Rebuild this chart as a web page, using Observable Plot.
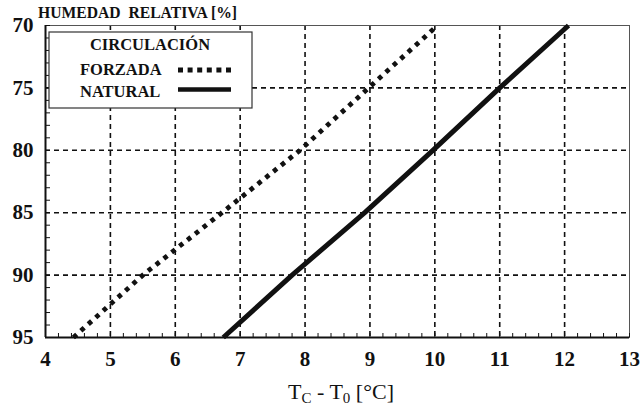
<!DOCTYPE html>
<html>
<head>
<meta charset="utf-8">
<script src="https://cdn.jsdelivr.net/npm/d3@7"></script>
<script src="https://cdn.jsdelivr.net/npm/@observablehq/plot@0.6"></script>
<style>
  html, body { margin: 0; padding: 0; background: #fff; }
  svg text { font-family: 'Liberation Serif', 'Times New Roman', serif !important; }
</style>
</head>
<body>
<div id="chart"></div>
<script>
// Data
const humidity = [95, 90, 85, 80, 75, 70];             // HUMEDAD RELATIVA [%]
const forzada  = [4.43, 5.5, 6.72, 7.92, 8.98, 10.04];   // Tc - T0 for CIRCULACIÓN FORZADA
const natural  = [6.74, 7.8, 8.92, 9.97, 11.0, 12.06];   // Tc - T0 for CIRCULACIÓN NATURAL
const xTicks = [4, 5, 6, 7, 8, 9, 10, 11, 12, 13];
const yTicks = [70, 75, 80, 85, 90, 95];
const xGrid = [5, 6, 7, 8, 9, 10, 11, 12];
const yGrid = [75, 80, 85, 90];
const seriesNames = ["FORZADA", "NATURAL"];
const legendTitle = "CIRCULACIÓN";
const yTitle = "HUMEDAD  RELATIVA [%]";

const xMinor = d3.range(20, 66).map(d => d / 5);
const yMinor = d3.range(70, 96);

const dataF = humidity.map((h, i) => ({h, t: forzada[i]}));
const dataN = humidity.map((h, i) => ({h, t: natural[i]}));

const serif = "Liberation Serif";

const chart = Plot.plot({
  width: 641,
  height: 407,
  marginLeft: 45,
  marginRight: 12,
  marginTop: 25,
  marginBottom: 70,
  style: {fontFamily: serif, fontSize: "21px", fontWeight: "bold", color: "#111", background: "#fff"},
  x: {domain: [4, 13]},
  y: {domain: [70, 95], reverse: true},
  marks: [
    Plot.gridX(xGrid, {stroke: "#111", strokeOpacity: 1, strokeWidth: 1.6, strokeDasharray: "5,4"}),
    Plot.gridY(yGrid, {stroke: "#111", strokeOpacity: 1, strokeWidth: 1.6, strokeDasharray: "5,4"}),
    Plot.frame({stroke: "#555", strokeWidth: 1}),
    Plot.axisX(xMinor, {tickSize: -4, tickFormat: () => "", label: null, stroke: "#111"}),
    Plot.axisY(yMinor, {tickSize: -5, tickFormat: () => "", label: null, stroke: "#111"}),
    Plot.axisX(xTicks, {tickSize: 0, tickPadding: 14, label: null, fontSize: 21, fontWeight: "bold", fontFamily: serif, fill: "#111"}),
    Plot.axisY(yTicks, {tickSize: 0, tickPadding: 12, label: null, fontSize: 21, fontWeight: "bold", fontFamily: serif, fill: "#111"}),
    Plot.ruleY([95], {stroke: "#111", strokeWidth: 2}),
    Plot.ruleX([4], {stroke: "#111", strokeWidth: 2}),
    Plot.line(dataF, {x: "t", y: "h", stroke: "#111", strokeWidth: 4.8, strokeDasharray: "4.5,5.5", strokeLinecap: "butt"}),
    Plot.line(dataN, {x: "t", y: "h", stroke: "#111", strokeWidth: 5, strokeLinecap: "butt"})
  ]
});

document.getElementById("chart").appendChild(chart);

// Titles and legend
const svg = d3.select(chart);
const xs = chart.scale("x").range;
const ys = chart.scale("y").range;
const plotLeft = Math.min(...xs), plotRight = Math.max(...xs);
const plotTop = Math.min(...ys);

function txt(sel, size, weight, anchor) {
  return sel.style("font-family", "'Liberation Serif', serif")
    .style("font-size", size + "px").style("font-weight", weight)
    .style("text-anchor", anchor).style("fill", "#111");
}

txt(svg.append("text"), 16.5, "bold", "start")
  .attr("x", plotLeft - 7).attr("y", plotTop - 7)
  .attr("textLength", 199).attr("lengthAdjust", "spacingAndGlyphs")
  .style("white-space", "pre")
  .text(yTitle);

const xt = txt(svg.append("text"), 22, "normal", "middle")
  .attr("x", (plotLeft + plotRight) / 2 + 4).attr("y", 399);
xt.append("tspan").text("T");
xt.append("tspan").style("font-size", "15px").attr("dy", 4).text("C");
xt.append("tspan").attr("dy", -4).text(" - T");
xt.append("tspan").style("font-size", "15px").attr("dy", 4).text("0");
xt.append("tspan").attr("dy", -4).text(" [°C]");

// Legend box
const lg = svg.append("g");
lg.append("rect").attr("x", 49).attr("y", 32).attr("width", 203).attr("height", 76)
  .attr("fill", "#fff").attr("stroke", "#333").attr("stroke-width", 1.2);
txt(lg.append("text"), 16.5, "bold", "middle").attr("x", 150).attr("y", 50).text(legendTitle);
txt(lg.append("text"), 16.5, "bold", "start").attr("x", 80).attr("y", 75).text(seriesNames[0]);
txt(lg.append("text"), 16.5, "bold", "start").attr("x", 80).attr("y", 97).text(seriesNames[1]);
lg.append("line").attr("x1", 178).attr("x2", 231).attr("y1", 70).attr("y2", 70)
  .attr("stroke", "#111").attr("stroke-width", 5).attr("stroke-dasharray", "5,4.6");
lg.append("line").attr("x1", 178).attr("x2", 231).attr("y1", 89.5).attr("y2", 89.5)
  .attr("stroke", "#111").attr("stroke-width", 4.5);
</script>
</body>
</html>
